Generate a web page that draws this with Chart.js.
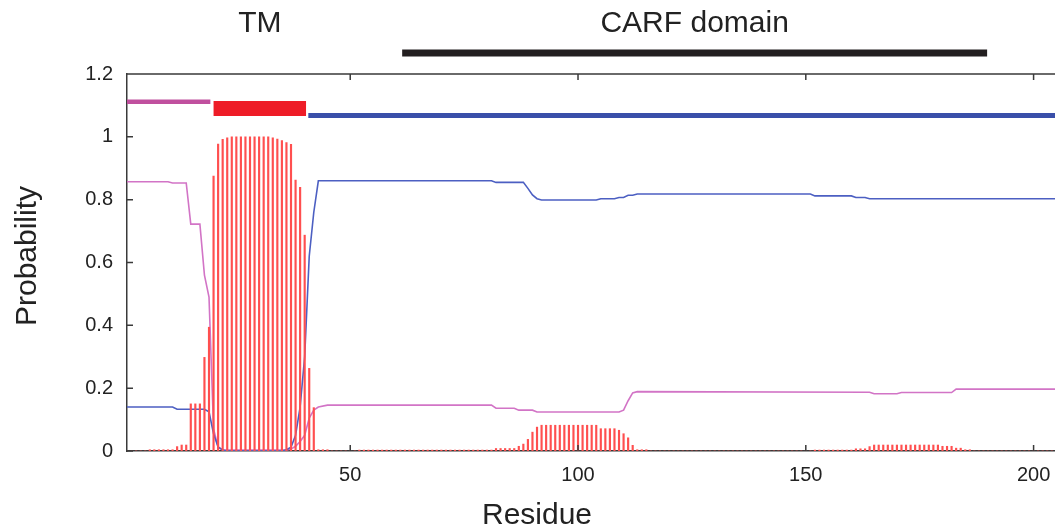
<!DOCTYPE html>
<html>
<head>
<meta charset="utf-8">
<script src="https://cdn.jsdelivr.net/npm/chart.js@4.4.1/dist/chart.umd.min.js"></script>
<style>
  html, body { margin: 0; padding: 0; background: #fff; }
  canvas { display: block; }
</style>
</head>
<body>
<canvas id="tmhmm" width="1055" height="526"></canvas>
<script>
// residue axis / ticks
const firstResidue = 1;
const lastResidue = 204.7;
const xTicks = [50, 100, 150, 200];
const yTicks = [0, 0.2, 0.4, 0.6, 0.8, 1, 1.2];

// TM probability, one bar per residue starting at residue 1
const tmProb = [
  0, 0, 0, 0, 0, 0.004, 0.004, 0.004, 0.004, 0.004,
  0.004, 0.014, 0.019, 0.019, 0.15, 0.15, 0.15, 0.298, 0.394, 0.875,
  0.977, 0.992, 0.997, 1, 1, 1, 1, 1, 1, 1,
  1, 1, 0.997, 0.993, 0.988, 0.982, 0.976, 0.862, 0.839, 0.687,
  0.263, 0.138, 0.004, 0.004, 0.004, 0, 0, 0, 0, 0,
  0, 0.003, 0.003, 0.003, 0.003, 0.003, 0.003, 0.003, 0.003, 0.003,
  0.003, 0.003, 0.003, 0.003, 0.003, 0.003, 0.003, 0.003, 0.003, 0.003,
  0.003, 0.003, 0.003, 0.003, 0.003, 0.003, 0.003, 0.003, 0.003, 0.003,
  0.003, 0.008, 0.008, 0.008, 0.008, 0.008, 0.015, 0.022, 0.037, 0.06,
  0.076, 0.082, 0.082, 0.082, 0.082, 0.082, 0.082, 0.082, 0.082, 0.082,
  0.082, 0.082, 0.082, 0.082, 0.071, 0.071, 0.071, 0.071, 0.066, 0.055,
  0.042, 0.018, 0.004, 0.004, 0.004, 0, 0, 0, 0, 0,
  0, 0, 0, 0, 0, 0, 0, 0, 0, 0,
  0, 0, 0, 0, 0, 0, 0, 0, 0, 0,
  0, 0, 0, 0, 0, 0, 0, 0, 0, 0,
  0, 0.003, 0.003, 0.003, 0.003, 0.003, 0.003, 0.003, 0.003, 0.003,
  0.007, 0.007, 0.007, 0.014, 0.019, 0.019, 0.019, 0.019, 0.019, 0.019,
  0.019, 0.019, 0.019, 0.019, 0.019, 0.019, 0.019, 0.019, 0.019, 0.015,
  0.015, 0.015, 0.009, 0.009, 0.004, 0.004, 0, 0, 0, 0,
  0, 0, 0, 0, 0, 0, 0, 0, 0, 0,
  0, 0, 0, 0, 0,
];

// outside probability (blue line), read at the residues where it changes
const outsideX = [1, 11, 12, 18, 19, 20, 21, 22, 23, 35, 36, 37, 38, 39, 40, 41, 42, 43, 81, 82, 88, 89, 90, 91, 92, 104, 105, 108, 109, 110, 111, 112, 113, 151, 152, 160, 161, 163, 164, 205];
const outsideY = [0.14, 0.14, 0.133, 0.133, 0.125, 0.055, 0.013, 0.003, 0, 0, 0.004, 0.012, 0.05, 0.14, 0.3, 0.62, 0.76, 0.86, 0.86, 0.855, 0.855, 0.836, 0.815, 0.803, 0.799, 0.799, 0.803, 0.803, 0.807, 0.807, 0.814, 0.814, 0.818, 0.818, 0.812, 0.812, 0.807, 0.807, 0.803, 0.803];

// inside probability (magenta line)
const insideX = [1, 10, 11, 14, 15, 17, 18, 19, 20, 21, 22, 36, 37, 38, 39, 40, 41, 42, 43, 45, 81, 82, 86, 87, 90, 91, 109, 110, 111, 112, 113, 164, 165, 170, 171, 182, 183, 205];
const insideY = [0.857, 0.857, 0.853, 0.853, 0.722, 0.722, 0.56, 0.49, 0.07, 0.012, 0.004, 0.003, 0.006, 0.015, 0.03, 0.05, 0.105, 0.13, 0.14, 0.146, 0.146, 0.136, 0.136, 0.13, 0.13, 0.124, 0.124, 0.13, 0.16, 0.185, 0.189, 0.187, 0.182, 0.182, 0.186, 0.186, 0.197, 0.197];

// predicted topology and annotated domain (residue ranges)
const insideSpan = [1, 19.3];
const tmSpan = [20, 40.3];
const outsideSpan = [40.8, 204.7];
const carfSpan = [61.4, 189.8];
const tmLabel = "TM";
const carfLabel = "CARF domain";

const FONT = "'Liberation Sans', Arial, Helvetica, sans-serif";

function pairs(xs, ys) {
  return xs.map((x, i) => ({ x: x, y: ys[i] }));
}
function span(range, level) {
  return [{ x: range[0], y: level }, { x: range[1], y: level }];
}

// frame on top, inward ticks, labels
const decorations = {
  id: "decorations",
  afterDraw(chart) {
    const { ctx, chartArea: a, scales } = chart;
    const x = scales.x, y = scales.y;
    ctx.save();
    ctx.strokeStyle = "#3a3a3a";
    ctx.lineWidth = 1.5;
    ctx.beginPath();
    ctx.moveTo(a.left, a.top);
    ctx.lineTo(a.right, a.top);
    xTicks.forEach((v) => {
      const px = x.getPixelForValue(v);
      ctx.moveTo(px, a.bottom);
      ctx.lineTo(px, a.bottom - 6);
      ctx.moveTo(px, a.top);
      ctx.lineTo(px, a.top + 6);
    });
    yTicks.forEach((v) => {
      const py = y.getPixelForValue(v);
      ctx.moveTo(a.left, py);
      ctx.lineTo(a.left + 6, py);
    });
    ctx.stroke();

    ctx.fillStyle = "#222";
    ctx.font = "30px " + FONT;
    ctx.textAlign = "center";
    ctx.textBaseline = "middle";
    ctx.fillText(tmLabel, x.getPixelForValue((tmSpan[0] + tmSpan[1]) / 2), 24);
    ctx.fillText(carfLabel, x.getPixelForValue((carfSpan[0] + carfSpan[1]) / 2), 24);

    ctx.textBaseline = "alphabetic";
    ctx.fillText("Residue", 537, 524);

    ctx.translate(36, 256);
    ctx.rotate(-Math.PI / 2);
    ctx.fillText("Probability", 0, 0);
    ctx.restore();
  },
};

const ctx = document.getElementById("tmhmm").getContext("2d");

new Chart(ctx, {
  data: {
    datasets: [
      {
        type: "bar",
        data: tmProb.map((p, i) => ({ x: firstResidue + i, y: p })),
        backgroundColor: "#ff4f4f",
        barThickness: 1.5,
        order: 0,
      },
      {
        type: "line",
        data: pairs(outsideX, outsideY),
        borderColor: "#4c5fc2",
        borderWidth: 1.6,
        pointRadius: 0,
        order: 1,
      },
      {
        type: "line",
        data: pairs(insideX, insideY),
        borderColor: "#d274c6",
        borderWidth: 1.6,
        pointRadius: 0,
        order: 1,
      },
      // topology track
      {
        type: "line",
        data: span(insideSpan, 1.112),
        borderColor: "#c0509e",
        borderWidth: 4.5,
        borderCapStyle: "butt",
        pointRadius: 0,
        order: 2,
      },
      {
        type: "line",
        data: span(tmSpan, 1.09),
        borderColor: "#ee1c27",
        borderWidth: 15,
        borderCapStyle: "butt",
        pointRadius: 0,
        order: 2,
      },
      {
        type: "line",
        data: span(outsideSpan, 1.068),
        borderColor: "#3a4fa9",
        borderWidth: 5,
        borderCapStyle: "butt",
        pointRadius: 0,
        order: 2,
      },
      // CARF domain bar above the plot
      {
        type: "line",
        data: span(carfSpan, 1.267),
        borderColor: "#231f20",
        borderWidth: 7,
        borderCapStyle: "butt",
        pointRadius: 0,
        clip: false,
        order: 2,
      },
    ],
  },
  options: {
    responsive: false,
    animation: false,
    layout: { padding: { top: 74, left: 0, right: 0, bottom: 0 } },
    scales: {
      x: {
        type: "linear",
        min: firstResidue,
        max: lastResidue,
        offset: false,
        grid: { display: false, drawTicks: false },
        border: { color: "#3a3a3a", width: 1.5 },
        ticks: { color: "#222", font: { size: 20, family: FONT }, padding: 12, maxRotation: 0 },
        afterBuildTicks(scale) {
          scale.ticks = xTicks.map((v) => ({ value: v }));
        },
        afterFit(scale) {
          scale.height = 75;
          scale.paddingLeft = 0;
          scale.paddingRight = 0;
        },
      },
      y: {
        min: 0,
        max: 1.2,
        grid: { display: false, drawTicks: false },
        border: { color: "#3a3a3a", width: 1.5 },
        ticks: {
          color: "#222",
          font: { size: 20, family: FONT },
          padding: 14,
          callback: (value) => String(value),
        },
        afterBuildTicks(scale) {
          scale.ticks = yTicks.map((v) => ({ value: v }));
        },
        afterFit(scale) {
          scale.width = 127;
          scale.paddingTop = 0;
          scale.paddingBottom = 0;
        },
      },
    },
    plugins: {
      legend: { display: false },
      tooltip: { enabled: false },
    },
  },
  plugins: [decorations],
});
</script>
</body>
</html>
